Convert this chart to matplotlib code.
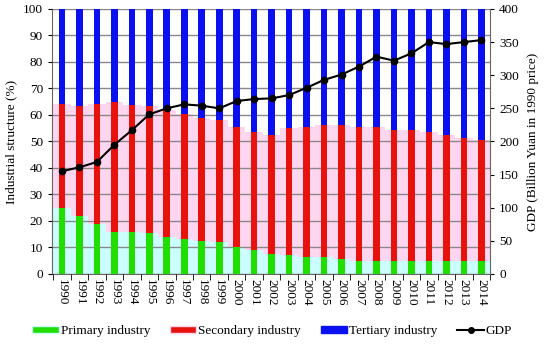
import numpy as np
import matplotlib
matplotlib.use("Agg")
import matplotlib.pyplot as plt
from matplotlib.patches import Patch
from matplotlib.lines import Line2D

plt.rcParams['font.family'] = ['Liberation Serif', 'DejaVu Serif']
plt.rcParams['font.size'] = 9.5

# data
years = list(range(1990, 2015))
primary = [25, 22, 19, 16, 16, 15.5, 14, 13, 12.5, 12, 10, 9, 7.5,
           7, 6.5, 6.5, 5.5, 5, 5, 5, 5, 5, 5, 5, 4.8]
sec_top = [64, 63.2, 64, 65, 63.8, 63.4, 62, 60.5, 58.8, 58.1, 55.3, 53.7, 52.6,
           55, 55.3, 56.2, 56.2, 55.4, 55.4, 54.2, 54.3, 53.7, 52.5, 51.3, 50.7]
gdp = [155, 161, 169, 195, 217, 241, 250, 256, 254, 250, 261, 264, 265,
       270, 281, 293, 301, 313, 328, 322, 333, 350, 347, 350, 353]

primary = np.array(primary)
secondary = np.array(sec_top) - primary
tertiary = 100 - np.array(sec_top)
x = np.arange(len(years))

fig = plt.figure(figsize=(5.5, 3.45), dpi=100)
ax = fig.add_axes([0.0945, 0.206, 0.7965, 0.768])

# pale background blocks
ax.bar(x, primary, width=1.0, color='#ccffff', zorder=1)
ax.bar(x, secondary, width=1.0, bottom=primary, color='#ffd6f0', zorder=1)

ax.set_axisbelow(False)
ax.yaxis.grid(True, color='#888888', lw=1, zorder=2)

w = 0.38
ax.bar(x, primary, width=w, color='#22dd00', zorder=3)
ax.bar(x, secondary, width=w, bottom=primary, color='#e8120c', zorder=3)
ax.bar(x, tertiary, width=w, bottom=primary + secondary, color='#0a10f0', zorder=3)

ax.set_ylim(0, 100)
ax.set_yticks(range(0, 101, 10))
ax.set_xlim(-0.57, 24.42)
ax.set_xticks(x)
ax.set_xticklabels([str(y) for y in years], rotation=-90)
ax.set_xticks(np.arange(-0.5, 24.6, 1), minor=True)
ax.tick_params(axis='x', which='major', length=0, pad=4)
ax.tick_params(axis='x', which='minor', length=4, direction='out')
ax.tick_params(axis='y', direction='out', length=3)
ax.set_ylabel('Industrial structure (%)', labelpad=4)
for s in ['top', 'right']:
    ax.spines[s].set_visible(False)
ax.spines['left'].set_color('#666666')
ax.spines['bottom'].set_color('#666666')

ax2 = ax.twinx()
ax2.plot(x, gdp, color='black', lw=1.5, marker='o', ms=4.5, zorder=5)
ax2.set_ylim(0, 400)
ax2.set_yticks(range(0, 401, 50))
ax2.tick_params(axis='y', direction='out', length=3)
ax2.set_ylabel('GDP (Billion Yuan in 1990 price)', labelpad=6)
for s in ['top', 'left', 'bottom']:
    ax2.spines[s].set_visible(False)
ax2.spines['right'].set_color('#666666')

handles = [
    Patch(facecolor='#22dd00', edgecolor='#ccffff', lw=1),
    Patch(facecolor='#e8120c', edgecolor='#ffd6f0', lw=1),
    Patch(facecolor='#0a10f0', edgecolor='#0a10f0', lw=1),
    Line2D([0], [0], color='black', lw=1.5, marker='o', ms=4),
]
labels = ['Primary industry', 'Secondary industry', 'Tertiary industry', 'GDP']
fig.legend(handles, labels, loc='center', bbox_to_anchor=(0.495, 0.04), ncol=4,
           frameon=False, handlelength=2.0, handleheight=0.5, columnspacing=1.5,
           handletextpad=0.15, fontsize=9.5)

fig.savefig('out.png', dpi=100)
